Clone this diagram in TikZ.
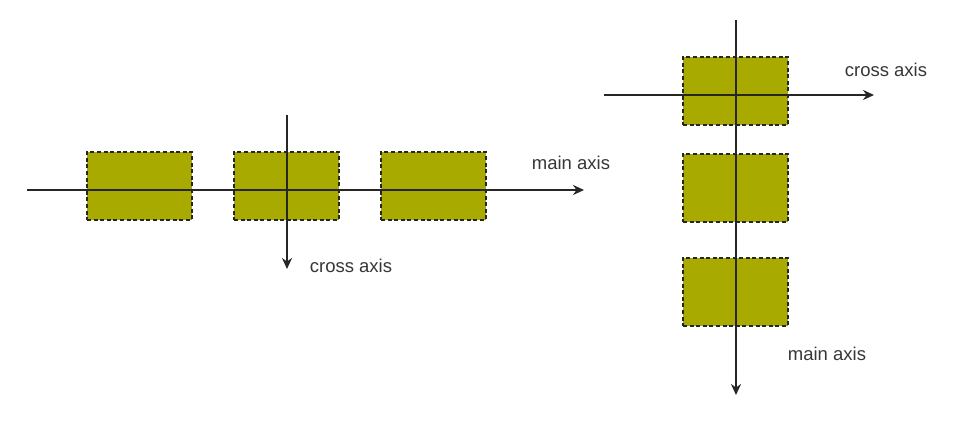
\documentclass[tikz,border=0pt]{standalone}
\usepackage{fontspec}
\setmainfont{Liberation Sans}
\usetikzlibrary{arrows.meta,positioning}
\definecolor{itemolive}{RGB}{168,170,0}
\definecolor{labelgray}{RGB}{55,55,55}
\tikzset{
  axis/.style={-{Stealth[length=11pt,width=10pt]}, line width=2.3pt, black!85},
  item/.style={rectangle, fill=itemolive, draw=black!85, line width=2.6pt,
    dash pattern=on 4pt off 2.6pt, minimum width=105pt, minimum height=68pt,
    inner sep=0pt},
  axis label/.style={font=\fontsize{18.5}{22}\selectfont, text=labelgray, inner sep=0pt},
}

\begin{document}
\begin{tikzpicture}[x=1pt, y=-1pt]
  \useasboundingbox[fill=white] (0,0) rectangle (958,430);

  % Row layout: items
  \node[item] (r1) at (139.5,186) {};
  \node[item] (r2) at (286.5,186) {};
  \node[item] (r3) at (433.5,186) {};

  % Row layout: axes
  \coordinate (rowmainstart) at (27,190);
  \coordinate (rowmainend) at (584,190);
  \coordinate (rowcrossstart) at (287,115);
  \coordinate (rowcrossend) at (287,269);
  \draw[axis] (rowmainstart) -- (rowmainend);
  \draw[axis] (rowcrossstart) -- (rowcrossend);

  % Row layout: labels
  \node[axis label] (rowmain) at (571,163) {main axis};
  \node[axis label] (rowcross) at (351,266) {cross axis};

  % Column layout: items
  \node[item] (c1) at (735.5,91) {};
  \node[item] (c2) at (735.5,188) {};
  \node[item] (c3) at (735.5,292) {};

  % Column layout: axes
  \coordinate (colmainstart) at (736,20);
  \coordinate (colmainend) at (736,395);
  \coordinate (colcrossstart) at (604,95);
  \coordinate (colcrossend) at (874,95);
  \draw[axis] (colmainstart) -- (colmainend);
  \draw[axis] (colcrossstart) -- (colcrossend);

  % Column layout: labels
  \node[axis label] (colcross) at (886,70) {cross axis};
  \node[axis label] (colmain) at (827,354) {main axis};
\end{tikzpicture}
\end{document}
